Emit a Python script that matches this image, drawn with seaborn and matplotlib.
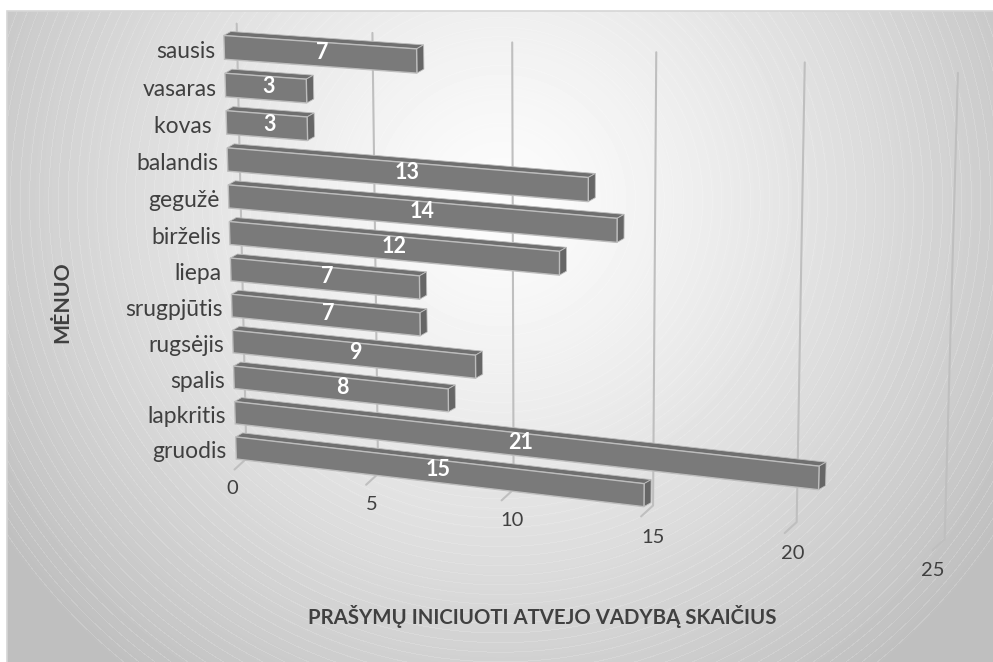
import numpy as np
import matplotlib
matplotlib.use('Agg')
import matplotlib.pyplot as plt
import seaborn as sns
from matplotlib.patches import Polygon, Rectangle
from matplotlib.transforms import Transform, IdentityTransform

W, H = 993, 662

months = ['sausis', 'vasaras', 'kovas ', 'balandis', 'gegužė', 'birželis', 'liepa',
          'srugpjūtis', 'rugsėjis', 'spalis', 'lapkritis', 'gruodis']
counts = [7, 3, 3, 13, 14, 12, 7, 7, 9, 8, 21, 15]
x_ticks = [0, 5, 10, 15, 20, 25]
x_title = 'PRAŠYMŲ INICIUOTI ATVEJO VADYBĄ SKAIČIUS'
y_title = 'MĖNUO'

BAR_COL = '#7a7a7a'
TOP_COL = '#6f6f6f'
SIDE_COL = '#666666'
EDGE_COL = '#bdbdbd'
TEXT_COL = '#404040'
BAR_W = 0.63


def fit_h(src, dst):
    # homography from (value, row) to picture pixels
    rows = []
    for (a, b), (u, v) in zip(src, dst):
        rows.append([a, b, 1, 0, 0, 0, -u * a, -u * b, -u])
        rows.append([0, 0, 0, a, b, 1, -v * a, -v * b, -v])
    return np.linalg.svd(np.array(rows, float))[2][-1].reshape(3, 3)


class Persp(Transform):
    input_dims = 2
    output_dims = 2
    is_separable = False

    def __init__(self, m):
        super().__init__()
        self.m = m

    def transform_non_affine(self, pts):
        pts = np.asarray(pts, float)
        q = np.c_[pts, np.ones(len(pts))] @ self.m.T
        return np.c_[q[:, 0] / q[:, 2], H - q[:, 1] / q[:, 2]]


# anchors for the front of the bars
front = Persp(fit_h(
    [(0, 0), (0, 1), (0, 11), (7, 0), (3, 1), (13, 3), (14, 4), (21, 10), (15, 11)],
    [(224, 47.5), (225, 85), (236, 448), (417, 61), (307, 91), (588, 189), (617, 231),
     (819, 478), (644, 495)]))
# anchors for the back wall, rows -0.5 and 11.5 are its top and bottom
wall = Persp(fit_h(
    [(0, -.5), (5, -.5), (15, -.5), (20, -.5), (25, -.5),
     (0, 11.5), (5, 11.5), (15, 11.5), (20, 11.5), (25, 11.5)],
    [(237, 24), (372, 33), (656, 52), (805, 62), (958, 73),
     (245, 459), (380, 473), (653, 505), (797, 522), (944, 540)]))

sns.set_theme(style='white')
plt.rcParams['font.family'] = ['Lato', 'DejaVu Sans']

fig = plt.figure(figsize=(W / 100, H / 100), dpi=100, facecolor='white')
ax = fig.add_axes([0, 0, 1, 1])
pix = IdentityTransform()

# background: round gradient with faint rings
yy, xx = np.mgrid[11:H, 7:W]
r = np.hypot(xx - 500, yy - 200)
shade = 252 - 61 * (np.minimum(r, 600) / 600) ** 1.3
shade = shade + 10 * (r / 600) ** 1.5 * (np.mod(r, 9.6) < 1.0) * (r < 600)
fig.figimage(np.clip(shade, 0, 255), xo=7, yo=0, cmap='gray', vmin=0, vmax=255,
             origin='upper', zorder=-2)
fig.add_artist(Rectangle((7, -5), W, H - 11 + 5, transform=pix, fc='none', ec='#d6d6d6', lw=1.2))

sns.barplot(x=counts, y=months, orient='h', width=BAR_W, color=BAR_COL, saturation=1, ax=ax, zorder=3)
ax.set_xlim(0, 25)
ax.patch.set_alpha(0)
ax.axis('off')

# gridlines and their floor stubs
for t in x_ticks:
    top, bot = wall.transform([(t, -.5), (t, 11.5)])
    ax.plot([top[0], bot[0], bot[0] - 12], [top[1], bot[1], bot[1] - 11], color='#bfbfbf', lw=1.5,
            transform=pix, zorder=1, clip_on=False)
    ax.text(232 + 28.04 * t, H - 488 - 3.28 * t, str(t), ha='center', va='center', fontsize=14.5,
            color=TEXT_COL, transform=pix)

shift = np.array([7, 4])
for row, bar in enumerate(list(ax.patches)):
    x0, y0, w, h = bar.get_x(), bar.get_y(), bar.get_width(), bar.get_height()
    a, b, c, d = front.transform([(x0, y0), (x0 + w, y0), (x0 + w, y0 + h), (x0, y0 + h)])
    ax.add_patch(Polygon([a, b, b + shift, a + shift], transform=pix, fc=TOP_COL, ec=EDGE_COL, lw=.6,
                         zorder=3, clip_on=False))
    ax.add_patch(Polygon([b, c, c + shift, b + shift], transform=pix, fc=SIDE_COL, ec=EDGE_COL, lw=.6,
                         zorder=3, clip_on=False))
    bar.set_transform(front)
    bar.set_edgecolor(EDGE_COL)
    bar.set_linewidth(1.0)
    bar.set_zorder(4)
    bar.set_clip_on(False)
    lx, ly = front.transform([(x0 + w / 2, y0 + h / 2)])[0]
    ax.text(lx + 3, ly + 1.5, str(counts[row]), color='white', fontweight='bold', fontsize=15.5,
            ha='center', va='center', transform=pix, zorder=6)
    tx, ty = front.transform([(0, y0 + h / 2)])[0]
    ax.text(tx - 9, ty - 4, months[row], color=TEXT_COL, fontsize=16.5, ha='right', va='center', transform=pix)

fig.text(542 / W, 1 - 616 / H, x_title, fontweight='bold', fontsize=14.7, color=TEXT_COL, ha='center', va='center')
fig.text(62 / W, 1 - 302 / H, y_title, fontweight='bold', fontsize=15.3, color=TEXT_COL, ha='center', va='center',
         rotation=90)

fig.savefig('out.png', dpi=100)
